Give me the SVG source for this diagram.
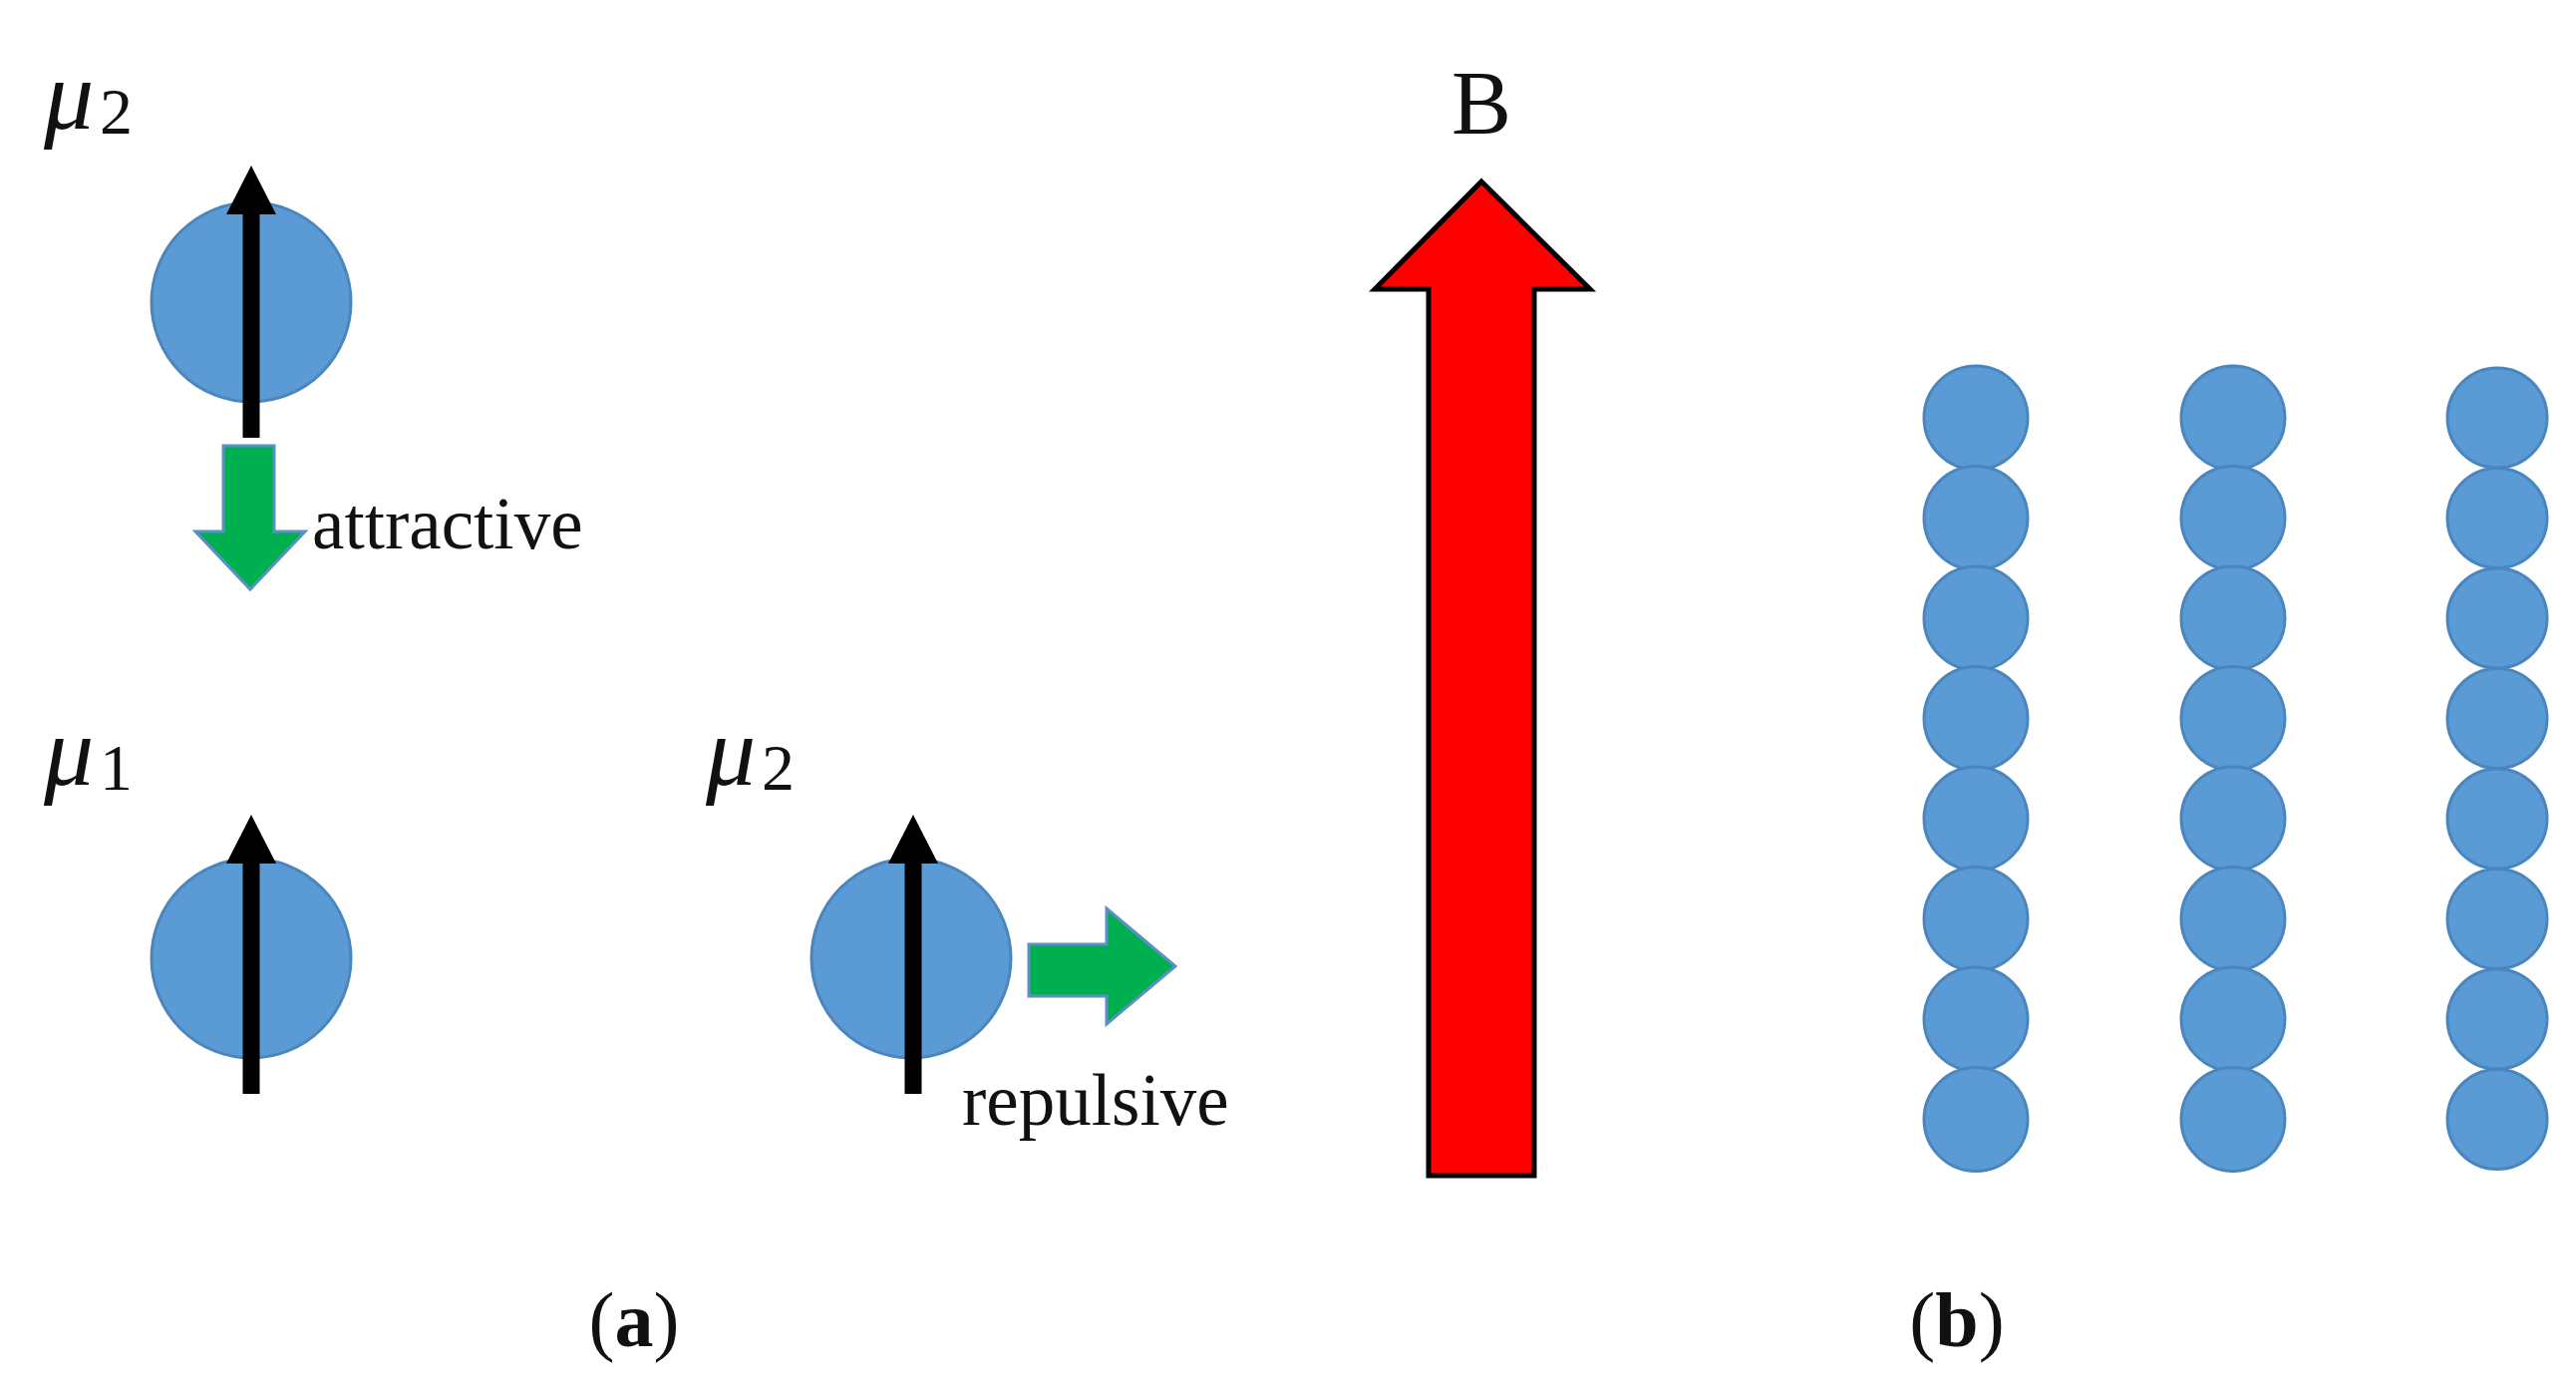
<svg xmlns="http://www.w3.org/2000/svg" width="2584" height="1404" viewBox="0 0 2584 1404">
<style>
.ball{fill:#5b9bd5;stroke:#4a86bd;stroke-width:3}
.t{font-family:"Liberation Serif",serif;fill:#111}
.mu{font-family:"Liberation Serif",serif;font-style:italic;font-size:100px;fill:#111}
.sub{font-family:"Liberation Serif",serif;font-size:66px;fill:#111}
.green{fill:#00b050;stroke:#5b8fc7;stroke-width:3}
.stem{stroke:#000;stroke-width:17}
</style>
<rect width="2584" height="1404" fill="#fff"/>
<g id="dipole-top">
<circle class="ball" cx="252" cy="303" r="100"/>
<line class="stem" x1="252" y1="439" x2="252" y2="210"/>
<path d="M252,166 L277,215 H227 Z" fill="#000"/>
<text class="mu" x="44" y="129">μ</text><text class="sub" x="100" y="134">2</text>
</g>
<g id="dipole-left">
<circle class="ball" cx="252" cy="961" r="100"/>
<line class="stem" x1="252" y1="1097" x2="252" y2="860"/>
<path d="M252,817 L277,866 H227 Z" fill="#000"/>
<text class="mu" x="44" y="787">μ</text><text class="sub" x="100" y="792">1</text>
</g>
<g id="dipole-right">
<circle class="ball" cx="914" cy="961" r="100"/>
<line class="stem" x1="916" y1="1097" x2="916" y2="860"/>
<path d="M916,817 L941,866 H891 Z" fill="#000"/>
<text class="mu" x="708" y="787">μ</text><text class="sub" x="764" y="792">2</text>
</g>
<g id="connectors">
<path class="green" d="M224,447 H275 V533 H306 L251,591 L196,533 H224 Z"/>
<text class="t" x="313" y="550" font-size="73">attractive</text>
<path class="green" d="M1032,947 H1110 V911 L1179,969 L1110,1027 V999 H1032 Z"/>
<text class="t" x="965" y="1128" font-size="73">repulsive</text>
</g>
<g id="field">
<path d="M1486,182 L1595,290 H1539 V1179 H1433 V290 H1379 Z" fill="#ff0000" stroke="#000" stroke-width="5"/>
<text class="t" x="1486" y="134" font-size="90" text-anchor="middle">B</text>
</g>
<g id="chains">
<g id="col1">
<circle class="ball" cx="1982" cy="419" r="52"/><circle class="ball" cx="1982" cy="519.5" r="52"/><circle class="ball" cx="1982" cy="620" r="52"/><circle class="ball" cx="1982" cy="720.5" r="52"/><circle class="ball" cx="1982" cy="821" r="52"/><circle class="ball" cx="1982" cy="921.5" r="52"/><circle class="ball" cx="1982" cy="1022" r="52"/><circle class="ball" cx="1982" cy="1122.5" r="52"/>
</g>
<g id="col2">
<circle class="ball" cx="2240" cy="419" r="52"/><circle class="ball" cx="2240" cy="519.5" r="52"/><circle class="ball" cx="2240" cy="620" r="52"/><circle class="ball" cx="2240" cy="720.5" r="52"/><circle class="ball" cx="2240" cy="821" r="52"/><circle class="ball" cx="2240" cy="921.5" r="52"/><circle class="ball" cx="2240" cy="1022" r="52"/><circle class="ball" cx="2240" cy="1122.5" r="52"/>
</g>
<g id="col3">
<circle class="ball" cx="2505" cy="419" r="50"/><circle class="ball" cx="2505" cy="519.5" r="50"/><circle class="ball" cx="2505" cy="620" r="50"/><circle class="ball" cx="2505" cy="720.5" r="50"/><circle class="ball" cx="2505" cy="821" r="50"/><circle class="ball" cx="2505" cy="921.5" r="50"/><circle class="ball" cx="2505" cy="1022" r="50"/><circle class="ball" cx="2505" cy="1122.5" r="50"/>
</g>
</g>
<text class="t" x="636" y="1350" font-size="78" text-anchor="middle">(<tspan font-weight="bold">a</tspan>)</text>
<text class="t" x="1963" y="1350" font-size="78" text-anchor="middle">(<tspan font-weight="bold">b</tspan>)</text>
</svg>
